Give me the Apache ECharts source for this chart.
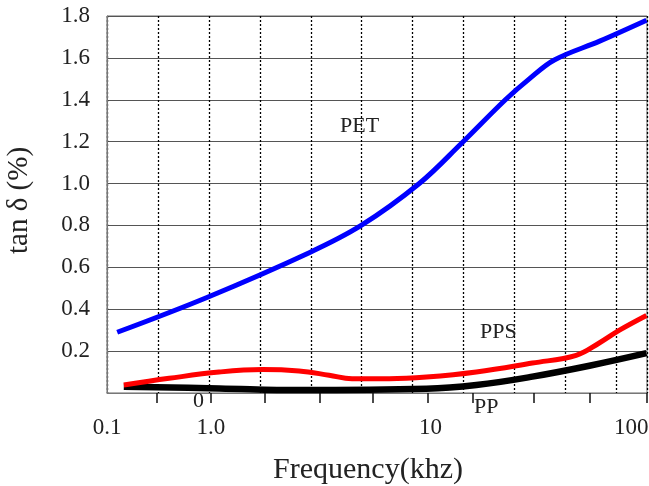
<!DOCTYPE html>
<html><head><meta charset="utf-8">
<script src="https://cdn.jsdelivr.net/npm/echarts@6/dist/echarts.min.js"></script>
<style>html,body{margin:0;padding:0;background:#fff}#c{width:649px;height:486px}</style>
</head><body><div id="c"></div>
<script>
// x positions are on the chart's (non-uniform) frequency scale, in grid-cell units
const petX = [0.20, 1.95, 3.97, 4.99, 6.13, 6.95, 7.82, 8.29, 8.78, 9.67, 10.59];
const petY = [0.29, 0.455, 0.67, 0.80, 1.00, 1.19, 1.40, 1.50, 1.59, 1.68, 1.78];
const ppsX = [0.33, 1.22, 2.20, 3.05, 3.77, 4.36, 4.81, 5.54, 6.27, 7.25, 8.35, 9.21, 9.67, 10.06, 10.59];
const ppsY = [0.038, 0.07, 0.10, 0.112, 0.105, 0.085, 0.068, 0.068, 0.076, 0.10, 0.143, 0.18, 0.24, 0.30, 0.37];
const ppX = [0.33, 2.20, 3.77, 6.27, 7.25, 8.35, 9.47, 10.59];
const ppY = [0.03, 0.022, 0.014, 0.02, 0.038, 0.078, 0.13, 0.19];
const xTickLabelText = ['0.1', '1.0', '10', '100'];
const xTickLabelPos = [0, 2.04, 6.35, 10.29];
const xTickPos = [0.98, 2.04, 3.10, 4.17, 5.21, 6.29, 7.17, 8.37, 9.47, 10.59];

const zip = (xs, ys) => xs.map((x, i) => [x, ys[i]]);
const serif = 'Liberation Serif';
const chart = echarts.init(document.getElementById('c'), null, {renderer: 'canvas'});
chart.setOption({
  animation: false,
  backgroundColor: '#fff',
  grid: {left: 107, top: 16, right: 2, bottom: 93, show: true, borderColor: '#666', borderWidth: 1,
    containLabel: false, outerBoundsMode: 'none'},
  xAxis: [{
    type: 'value', min: 0, max: 10.6, interval: 1, position: 'bottom',
    name: 'Frequency(khz)', nameLocation: 'middle', nameGap: 62,
    nameTextStyle: {fontFamily: serif, fontSize: 30, color: '#222', padding: [0, 18, 0, 0]},
    axisLine: {show: true, lineStyle: {color: '#777', width: 1}},
    axisTick: {show: false},
    axisLabel: {show: false},
    splitLine: {show: true, lineStyle: {color: '#000', width: 1.3, type: [2, 2]}}
  }, {
    type: 'value', min: 0, max: 10.6, position: 'bottom',
    axisLine: {show: false},
    axisTick: {show: true, length: 10, customValues: xTickPos, lineStyle: {color: '#111', width: 1.5}},
    axisLabel: {show: true, customValues: xTickLabelPos, margin: 23, fontFamily: serif, fontSize: 23, color: '#222',
      formatter: v => { const i = xTickLabelPos.findIndex(p => Math.abs(p - v) < 1e-6); return i >= 0 ? xTickLabelText[i] : ''; }},
    splitLine: {show: false}
  }],
  yAxis: {
    type: 'value', min: 0, max: 1.8, interval: 0.2,
    name: 'tan δ (%)', nameLocation: 'middle', nameGap: 73, nameRotate: 90,
    nameTextStyle: {fontFamily: serif, fontSize: 29, color: '#222', padding: [0, 0, 0, 8]},
    axisLine: {show: true, lineStyle: {color: '#777', width: 1}},
    axisTick: {show: false},
    axisLabel: {showMinLabel: false, margin: 17, fontFamily: serif, fontSize: 23, color: '#222',
      formatter: v => v.toFixed(1)},
    splitLine: {show: true, lineStyle: {color: '#555', width: 1}}
  },
  series: [
    {name: 'PP', type: 'line', xAxisIndex: 0, data: zip(ppX, ppY), smooth: 0.4, symbol: 'none',
      lineStyle: {color: '#000', width: 6.5}, z: 3},
    {name: 'PPS', type: 'line', xAxisIndex: 0, data: zip(ppsX, ppsY), smooth: 0.4, symbol: 'none',
      lineStyle: {color: '#ff0000', width: 5}, z: 4},
    {name: 'PET', type: 'line', xAxisIndex: 0, data: zip(petX, petY), smooth: 0.35, symbol: 'none',
      lineStyle: {color: '#0000ff', width: 5}, z: 5}
  ],
  graphic: [
    {type: 'text', left: 340, top: 115, z: 10, style: {text: 'PET', font: '22px "Liberation Serif"', fill: '#222'}},
    {type: 'text', left: 480, top: 321, z: 10, style: {text: 'PPS', font: '22px "Liberation Serif"', fill: '#222'}},
    {type: 'text', left: 474, top: 396, z: 10, style: {text: 'PP', font: '22px "Liberation Serif"', fill: '#222'}},
    {type: 'text', left: 193, top: 390, z: 10, style: {text: '0', font: '22px "Liberation Serif"', fill: '#222'}}
  ]
});
</script></body></html>
